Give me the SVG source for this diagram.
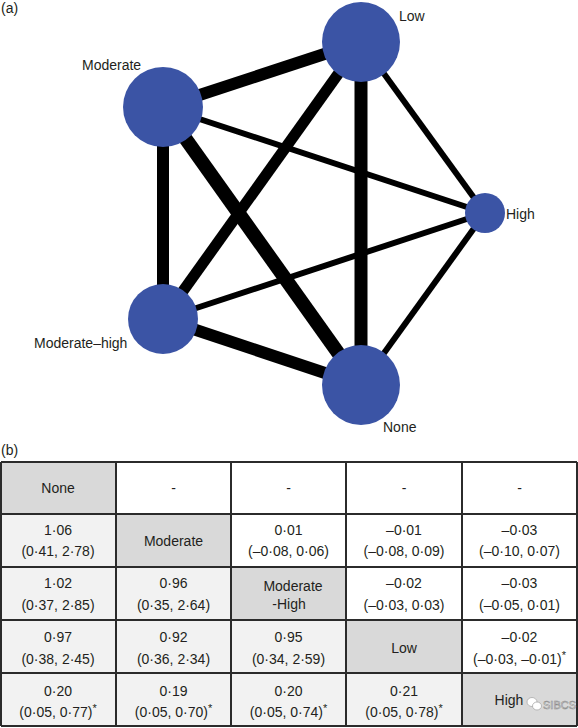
<svg xmlns="http://www.w3.org/2000/svg" width="578" height="728" viewBox="0 0 578 728">
<style>
text{font-family:"Liberation Sans",Arial,sans-serif;fill:#231f20;font-size:14px}
.c{text-anchor:middle}
.node{fill:#3b54a5}
.edge{stroke:#000;fill:none}
.sup{font-size:11px}
.grid{stroke:#2b2b2b;stroke-width:2;fill:none}
.diag{fill:#d9d9d9}
.low{fill:#f2f2f2}
.up{fill:#ffffff}
</style>
<rect width="578" height="728" fill="#fff"/>
<text x="1" y="13">(a)</text>

<g id="connectors">
<line class="edge" x1="163" y1="107" x2="361" y2="42" stroke-width="12"/>
<line class="edge" x1="163" y1="107" x2="163" y2="319" stroke-width="12"/>
<line class="edge" x1="163" y1="107" x2="361" y2="385" stroke-width="14"/>
<line class="edge" x1="163" y1="107" x2="485" y2="213" stroke-width="6"/>
<line class="edge" x1="361" y1="42" x2="163" y2="319" stroke-width="11"/>
<line class="edge" x1="361" y1="42" x2="361" y2="385" stroke-width="13"/>
<line class="edge" x1="361" y1="42" x2="485" y2="213" stroke-width="6"/>
<line class="edge" x1="163" y1="319" x2="485" y2="213" stroke-width="6"/>
<line class="edge" x1="163" y1="319" x2="361" y2="385" stroke-width="12"/>
<line class="edge" x1="361" y1="385" x2="485" y2="213" stroke-width="6"/>
</g>

<g id="node-low">
<ellipse class="node" cx="361" cy="42" rx="39" ry="40"/>
<text x="399" y="21">Low</text>
</g>
<g id="node-moderate">
<ellipse class="node" cx="163" cy="107" rx="40" ry="40"/>
<text x="82" y="70">Moderate</text>
</g>
<g id="node-high">
<ellipse class="node" cx="485" cy="213" rx="20" ry="20"/>
<text x="506" y="219">High</text>
</g>
<g id="node-moderate-high">
<ellipse class="node" cx="163" cy="319" rx="35" ry="35"/>
<text x="34" y="348">Moderate–high</text>
</g>
<g id="node-none">
<ellipse class="node" cx="361" cy="385" rx="39" ry="40"/>
<text x="383" y="432">None</text>
</g>

<text x="1" y="455">(b)</text>

<g id="table">
<rect class="diag" x="1" y="462" width="115" height="52"/>
<rect class="up" x="116" y="462" width="461" height="52"/>
<rect class="low" x="1" y="514" width="115" height="53"/>
<rect class="diag" x="116" y="514" width="115" height="53"/>
<rect class="low" x="1" y="567" width="230" height="53"/>
<rect class="diag" x="231" y="567" width="115" height="53"/>
<rect class="low" x="1" y="620" width="345" height="53"/>
<rect class="diag" x="346" y="620" width="116" height="53"/>
<rect class="low" x="1" y="673" width="461" height="53"/>
<rect class="diag" x="462" y="673" width="115" height="53"/>

<path class="grid" d="M1 462H577M1 514H577M1 567H577M1 620H577M1 673H577M1 726H577M1 462V726M116 462V726M231 462V726M346 462V726M462 462V726M577 462V726"/>

<g id="cell-1-1"><text class="c" x="58" y="493">None</text></g>
<g id="cell-1-2"><text class="c" x="173.5" y="493">-</text></g>
<g id="cell-1-3"><text class="c" x="288.5" y="493">-</text></g>
<g id="cell-1-4"><text class="c" x="404" y="493">-</text></g>
<g id="cell-1-5"><text class="c" x="519.5" y="493">-</text></g>

<g id="cell-2-1"><text class="c" x="58" y="535">1·06</text><text class="c" x="58" y="556">(0·41, 2·78)</text></g>
<g id="cell-2-2"><text class="c" x="173.5" y="546">Moderate</text></g>
<g id="cell-2-3"><text class="c" x="288.5" y="535">0·01</text><text class="c" x="288.5" y="556">(–0·08, 0·06)</text></g>
<g id="cell-2-4"><text class="c" x="404" y="535">–0·01</text><text class="c" x="404" y="556">(–0·08, 0·09)</text></g>
<g id="cell-2-5"><text class="c" x="519.5" y="535">–0·03</text><text class="c" x="519.5" y="556">(–0·10, 0·07)</text></g>

<g id="cell-3-1"><text class="c" x="58" y="588">1·02</text><text class="c" x="58" y="610">(0·37, 2·85)</text></g>
<g id="cell-3-2"><text class="c" x="173.5" y="588">0·96</text><text class="c" x="173.5" y="610">(0·35, 2·64)</text></g>
<g id="cell-3-3"><text class="c" x="293" y="591">Moderate</text><text class="c" x="289" y="609">-High</text></g>
<g id="cell-3-4"><text class="c" x="404" y="588">–0·02</text><text class="c" x="404" y="610">(–0·03, 0·03)</text></g>
<g id="cell-3-5"><text class="c" x="519.5" y="588">–0·03</text><text class="c" x="519.5" y="610">(–0·05, 0·01)</text></g>

<g id="cell-4-1"><text class="c" x="58" y="642">0·97</text><text class="c" x="58" y="664">(0·38, 2·45)</text></g>
<g id="cell-4-2"><text class="c" x="173.5" y="642">0·92</text><text class="c" x="173.5" y="664">(0·36, 2·34)</text></g>
<g id="cell-4-3"><text class="c" x="288.5" y="642">0·95</text><text class="c" x="288.5" y="664">(0·34, 2·59)</text></g>
<g id="cell-4-4"><text class="c" x="404" y="653">Low</text></g>
<g id="cell-4-5"><text class="c" x="519.5" y="642">–0·02</text><text class="c" x="519.5" y="664">(–0·03, –0·01)<tspan class="sup" dy="-5">*</tspan></text></g>

<g id="cell-5-1"><text class="c" x="58" y="696">0·20</text><text class="c" x="58" y="717">(0·05, 0·77)<tspan class="sup" dy="-5">*</tspan></text></g>
<g id="cell-5-2"><text class="c" x="173.5" y="696">0·19</text><text class="c" x="173.5" y="717">(0·05, 0·70)<tspan class="sup" dy="-5">*</tspan></text></g>
<g id="cell-5-3"><text class="c" x="288.5" y="696">0·20</text><text class="c" x="288.5" y="717">(0·05, 0·74)<tspan class="sup" dy="-5">*</tspan></text></g>
<g id="cell-5-4"><text class="c" x="404" y="696">0·21</text><text class="c" x="404" y="717">(0·05, 0·78)<tspan class="sup" dy="-5">*</tspan></text></g>
<g id="cell-5-5"><text class="c" x="509" y="705">High</text></g>
</g>

<g id="watermark">
<ellipse cx="532" cy="702" rx="5" ry="4.5" fill="#fff" stroke="#aaa" stroke-width="0.8"/>
<ellipse cx="537" cy="706" rx="4.5" ry="4" fill="#fff" stroke="#aaa" stroke-width="0.8"/>
<text x="543" y="709" style="fill:#fff;stroke:#8a8a8a;stroke-width:0.6;font-size:11px">SIBCS</text>
</g>
</svg>
